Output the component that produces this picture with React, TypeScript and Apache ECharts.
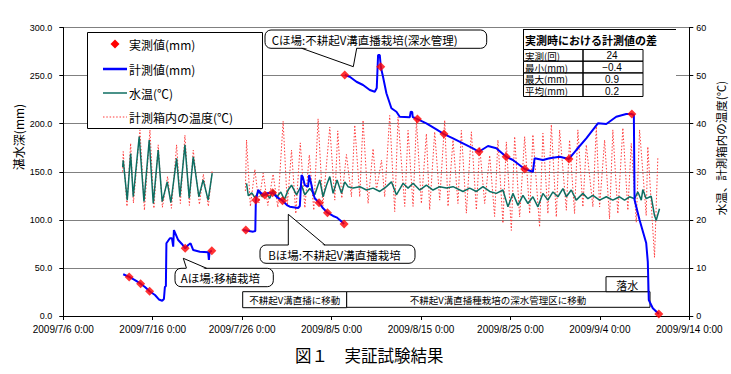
import React, { useEffect, useRef } from "react";
import * as echarts from "echarts";

// x values are days since 2009/7/6 0:00
const xTickLabels = [
  "2009/7/6 0:00", "2009/7/16 0:00", "2009/7/26 0:00", "2009/8/5 0:00",
  "2009/8/15 0:00", "2009/8/25 0:00", "2009/9/4 0:00", "2009/9/14 0:00",
];

// 実測値 (mm)
const measuredMm: [number, number][] = [
  [7.37, 40.6], [8.65, 33.6], [9.65, 25.7], [13.63, 70.4], [16.61, 67.9],
  [20.41, 89.4], [21.53, 120.6], [22.54, 125.8], [23.40, 128.2], [24.51, 119.9],
  [28.60, 117.8], [29.54, 107.4], [31.40, 95.7],
  [31.47, 250.6], [35.50, 259.2], [39.60, 204.8], [42.57, 189.2], [46.48, 170.8],
  [49.52, 165.6], [51.59, 152.9], [56.54, 163.3], [63.58, 210.0], [66.59, 2.1],
];

// 計測値 (mm) – A field
const sensorA: [number, number][] = [
  [6.70, 43.4], [7.37, 40.6], [8.01, 37.4], [8.65, 33.6], [9.13, 30.2], [9.65, 25.7],
  [10.25, 21.8], [10.69, 17.2], [11.06, 15.9], [11.25, 17.7], [11.36, 30.2], [11.47, 31.2],
  [11.53, 75.6], [11.92, 80.8], [12.15, 80.8], [12.29, 72.1], [12.37, 89.4], [12.85, 79.0],
  [13.26, 74.9], [13.63, 70.4], [13.97, 73.8], [14.23, 75.6], [14.53, 68.6], [15.27, 66.9],
  [16.20, 66.2], [16.28, 58.2], [16.35, 66.5], [16.61, 67.9],
];
// 計測値 (mm) – B field
const sensorB: [number, number][] = [
  [20.11, 89.4], [21.23, 87.7], [21.47, 88.4], [21.53, 120.6], [21.79, 131.0], [22.09, 127.9],
  [22.54, 125.8], [22.87, 127.9], [23.40, 128.2], [23.88, 123.7], [24.51, 119.9], [25.00, 115.4],
  [25.33, 113.7], [26.26, 112.3], [26.45, 114.4], [26.64, 146.6], [26.78, 144.5], [27.00, 136.2],
  [27.37, 134.4], [27.49, 146.6], [27.75, 136.2], [27.93, 127.6], [28.12, 122.4], [28.60, 117.8],
  [29.05, 112.0], [29.54, 107.4], [30.17, 104.0], [30.55, 102.6], [30.92, 99.8], [31.40, 95.7],
];
// 計測値 (mm) – C field
const sensorC: [number, number][] = [
  [31.47, 250.6], [32.03, 248.8], [32.78, 243.6], [33.52, 240.2], [34.27, 235.0], [34.83, 233.2],
  [35.05, 237.1], [35.20, 271.4], [35.39, 271.4], [35.50, 259.2], [35.75, 248.8], [36.13, 231.6],
  [36.69, 216.0], [37.25, 212.4], [37.62, 207.2], [38.74, 206.6], [38.85, 212.4], [39.02, 212.1],
  [39.07, 206.9], [39.60, 204.8], [40.60, 200.4], [41.72, 194.1], [42.57, 189.2], [43.58, 184.8],
  [44.69, 179.6], [45.81, 174.4], [46.48, 170.8], [46.78, 172.6], [47.49, 176.8], [48.42, 174.4],
  [49.52, 165.6], [50.28, 162.2], [51.59, 152.9], [52.51, 150.0], [52.70, 164.0], [53.63, 162.2],
  [54.38, 164.0], [55.50, 165.6], [56.54, 163.3], [57.36, 172.6], [58.48, 184.8], [59.78, 200.4],
  [60.72, 199.6], [61.83, 207.2], [62.95, 210.0], [63.58, 210.0], [63.80, 209.0], [63.88, 120.6],
  [64.44, 99.8], [65.18, 75.9], [65.36, 56.2], [65.47, 16.6], [65.92, 8.0], [66.59, 2.1],
];

// 水温 (℃)
const waterTempA: [number, number][] = [
  [6.64, 31.0], [6.70, 32.4], [7.15, 24.1], [7.53, 33.8], [7.82, 24.8], [8.49, 37.3],
  [9.02, 23.8], [9.61, 36.6], [10.06, 23.4], [10.61, 34.5], [11.06, 23.8], [11.62, 27.9],
  [12.03, 23.6], [12.67, 32.8], [13.04, 24.8], [13.60, 35.6], [14.08, 24.5], [14.53, 33.1],
  [15.16, 24.8], [15.64, 28.3], [16.20, 24.1], [16.65, 29.7],
];
const waterTempBC: [number, number][] = [
  [20.49, 27.6], [20.69, 25.0], [21.08, 25.6], [21.42, 24.6], [21.87, 25.9], [22.26, 24.8],
  [22.65, 25.6], [23.09, 24.5], [23.46, 26.2], [23.88, 24.8], [24.32, 25.8], [24.72, 24.2],
  [25.14, 26.2], [25.52, 27.2], [26.08, 25.2], [26.64, 27.2], [27.01, 25.2], [27.56, 26.5],
  [28.12, 25.2], [28.68, 28.3], [29.05, 24.8], [29.43, 27.2], [29.80, 29.0], [30.17, 25.5],
  [30.61, 28.3], [31.11, 25.5], [31.47, 27.9], [31.84, 26.9], [32.40, 26.6], [33.15, 26.9],
  [33.90, 26.2], [34.64, 26.6], [35.39, 25.9], [36.13, 26.9], [36.69, 27.9], [37.25, 25.2],
  [37.99, 27.6], [38.55, 26.6], [39.11, 27.6], [39.85, 26.2], [40.60, 27.2], [41.34, 26.2],
  [42.09, 26.9], [42.84, 26.6], [43.58, 26.9], [44.69, 25.9], [45.44, 26.6], [46.19, 25.9],
  [46.93, 26.9], [47.68, 25.9], [48.42, 25.5], [49.16, 26.2], [49.72, 22.7], [50.28, 25.5],
  [50.84, 23.0], [51.40, 25.1], [51.96, 23.4], [52.51, 24.8], [53.07, 22.7], [53.63, 25.5],
  [54.19, 24.1], [54.75, 25.8], [55.31, 24.8], [55.87, 26.5], [56.25, 24.8], [56.80, 26.2],
  [57.36, 24.1], [58.10, 25.5], [58.66, 24.4], [59.22, 25.1], [59.97, 24.1], [60.72, 24.8],
  [61.45, 24.1], [62.20, 24.8], [62.76, 24.1], [63.32, 24.8], [63.88, 24.4], [64.25, 25.8],
  [64.63, 24.1], [64.80, 26.3], [65.18, 24.4], [65.74, 24.9], [66.11, 20.9], [66.30, 19.9],
  [66.67, 22.3],
];

// 計測箱内の温度 (℃)
const boxTempA: [number, number][] = [
  [6.64, 30.0], [6.70, 34.2], [7.12, 22.8], [7.53, 35.9], [7.84, 23.5], [8.57, 38.7],
  [9.07, 22.0], [9.69, 38.7], [10.13, 22.4], [10.61, 35.6], [11.08, 22.6], [11.66, 29.0],
  [12.09, 22.4], [12.67, 35.6], [13.09, 23.4], [13.60, 37.6], [14.10, 23.0], [14.53, 34.5],
  [15.22, 23.2], [15.66, 29.5], [16.22, 22.8], [16.65, 30.4],
];
const boxTempBC: [number, number][] = [
  [20.36, 26.0], [20.49, 36.6], [20.92, 22.8], [21.42, 30.5], [21.87, 23.5], [22.35, 29.7],
  [22.87, 23.0], [23.46, 29.5], [23.99, 22.6], [24.58, 40.5], [25.05, 23.0], [25.52, 34.5],
  [26.00, 21.3], [26.50, 36.0], [27.01, 22.5], [27.51, 33.5], [28.01, 22.0], [28.49, 41.0],
  [29.02, 22.8], [29.80, 39.3], [30.36, 24.1], [30.69, 38.5], [31.14, 24.5], [31.66, 33.6],
  [32.22, 24.8], [32.59, 39.7], [33.15, 24.8], [33.52, 40.7], [34.08, 23.4], [34.64, 34.8],
  [35.02, 26.2], [35.58, 32.4], [35.94, 24.8], [36.50, 41.7], [37.06, 21.7], [37.43, 41.4],
  [38.18, 22.8], [38.55, 38.6], [39.11, 22.8], [39.49, 40.7], [40.04, 23.4], [40.60, 37.9],
  [40.97, 22.1], [41.53, 38.3], [42.09, 24.1], [42.65, 40.7], [43.02, 22.8], [43.58, 36.6],
  [44.13, 23.4], [44.51, 38.6], [45.07, 21.4], [45.63, 38.3], [46.19, 22.1], [46.56, 35.2],
  [47.12, 23.4], [47.68, 33.4], [48.23, 20.7], [48.60, 36.6], [49.16, 19.3], [49.54, 36.2],
  [50.10, 17.8], [50.47, 37.3], [51.03, 20.6], [51.59, 37.3], [52.15, 21.3], [52.51, 37.7],
  [53.26, 18.5], [53.63, 38.0], [54.19, 21.3], [54.57, 39.8], [55.13, 20.6], [55.50, 38.7],
  [56.25, 22.0], [56.61, 36.6], [57.17, 21.3], [57.54, 38.7], [58.10, 22.7], [58.48, 35.6],
  [59.22, 22.7], [59.60, 39.4], [59.97, 22.7], [60.53, 36.6], [61.08, 20.2], [61.45, 38.7],
  [62.01, 21.3], [62.57, 39.1], [63.13, 22.0], [63.51, 35.9], [64.07, 19.5], [64.44, 38.7],
  [65.18, 20.9], [65.36, 35.2], [66.11, 12.2], [66.48, 32.8],
];

// 実測時における計測値の差
const tableRows = ["実測(回)", "最小(mm)", "最大(mm)", "平均(mm)"];
const tableValues = ["24", "−0.4", "0.9", "0.2"];

const JP = '"Noto Sans CJK JP", "Noto Sans", sans-serif';
const NUM = '"Liberation Sans", Arial, sans-serif';

const BLUE = "#0000ff";
const TEAL = "#0e6e62";
const RED = "#ff0000";
const DOT = "#ff3a3a";
const DOT_DASH = [1.5, 1.8];

function txt(text: string, x: number, y: number, size: number, o: any = {}) {
  const align = o.align ?? "left";
  return {
    type: "text",
    x,
    y,
    z: o.z ?? 100,
    rotation: o.rotation ?? 0,
    style: {
      text,
      fontSize: size,
      fontFamily: o.font ?? JP,
      fontWeight: o.bold ? "bold" : "normal",
      fill: "#000",
      align,
      textAlign: align,
      verticalAlign: "middle",
      textVerticalAlign: "middle",
      lineHeight: size,
    },
  };
}

function line(x1: number, y1: number, x2: number, y2: number, stroke: string, lw: number, dash?: number[], z = 100) {
  return {
    type: "line",
    z,
    shape: { x1, y1, x2, y2 },
    style: { stroke, lineWidth: lw, lineDash: dash },
  };
}

function box(x: number, y: number, w: number, h: number, z = 100, r = 0, stroke = "#000") {
  return {
    type: "rect",
    z,
    shape: { x, y, width: w, height: h, r },
    style: { fill: "#fff", stroke, lineWidth: 1 },
  };
}

function callout(x: number, y: number, w: number, h: number, bx1: number, bx2: number, tx: number, ty: number, label: string, textX: number) {
  const up = ty < y;
  const edge = up ? y : y + h;
  const inner = up ? y + 1.5 : y + h - 1.5;
  return [
    box(x, y, w, h, 100, 6),
    {
      type: "polygon",
      z: 101,
      shape: { points: [[bx1, inner], [tx, ty], [bx2, inner]] },
      style: { fill: "#fff" },
    },
    {
      type: "polyline",
      z: 102,
      shape: { points: [[bx1, edge], [tx, ty], [bx2, edge]] },
      style: { stroke: "#000", lineWidth: 1, fill: null },
    },
    txt(label, textX, y + h / 2 + 0.5, 11.5, { z: 103 }),
  ];
}

function buildGraphic() {
  const els: any[] = [];
  // legend
  els.push(box(87.5, 32.5, 175, 96));
  els.push({
    type: "polygon",
    z: 101,
    shape: { points: [[115, 39.5], [119.5, 44], [115, 48.5], [110.5, 44]] },
    style: { fill: RED },
  });
  els.push(txt("実測値(mm)", 129, 44.5, 12));
  els.push(line(103, 69, 127, 69, BLUE, 2.5, undefined, 101));
  els.push(txt("計測値(mm)", 129, 69.5, 12));
  els.push(line(103, 93, 127, 93, TEAL, 1.5, undefined, 101));
  els.push(txt("水温(℃)", 129, 93.5, 12));
  els.push(line(103, 117, 127, 117, DOT, 1, DOT_DASH, 101));
  els.push(txt("計測箱内の温度(℃)", 129, 117.5, 12));

  // table
  els.push({ type: "rect", z: 100, shape: { x: 523, y: 29, width: 153, height: 68 }, style: { fill: "#fff" } });
  els.push(line(523, 29.5, 676, 29.5, "#000", 1));
  els.push(line(523.5, 29.5, 523.5, 49.5, "#000", 1));
  els.push(txt("実測時における計測値の差", 525, 40, 11, { bold: true }));
  const rowsY = [49.5, 61.2, 72.9, 84.6, 96.5];
  for (let i = 0; i < tableRows.length; i++) {
    const y0 = rowsY[i];
    const h = rowsY[i + 1] - y0;
    els.push({ type: "rect", z: 101, shape: { x: 523.5, y: y0, width: 59.5, height: h }, style: { fill: "none", stroke: "#000", lineWidth: 1 } });
    els.push({ type: "rect", z: 101, shape: { x: 583, y: y0, width: 60, height: h }, style: { fill: "none", stroke: "#000", lineWidth: 1 } });
    els.push(txt(tableRows[i], 525, y0 + h / 2 + 0.5, 9.5));
    els.push(txt(tableValues[i], 612, y0 + h / 2 + 0.5, 10, { align: "center", font: NUM }));
  }

  // callouts
  els.push(...callout(265, 30, 221.7, 18.3, 301.7, 356.7, 353.3, 66.7, "Cほ場:不耕起V溝直播栽培(深水管理)", 271.7));
  els.push(...callout(260, 245, 155, 18.3, 288.3, 325, 288.3, 214.3, "Bほ場:不耕起V溝直播栽培", 268.3));
  els.push(...callout(175, 268.3, 98.3, 18.4, 186.5, 206.7, 183.3, 258.3, "Aほ場:移植栽培", 180.7));

  // bottom boxes
  els.push(box(242.7, 291.7, 104, 16, 1));
  els.push(txt("不耕起V溝直播に移動", 294.7, 300, 9.5, { align: "center", z: 1 }));
  els.push(box(346.7, 291.7, 303.3, 15.6, 1));
  els.push(txt("不耕起V溝直播種栽培の深水管理区に移動", 498, 300, 9.5, { align: "center", z: 1 }));
  els.push(box(606, 276.7, 42.3, 15, 1));
  els.push(txt("落水", 627.2, 284.5, 11, { align: "center", z: 1 }));

  // axis titles
  els.push(txt("湛水深(mm)", 18, 137, 12, { align: "center", rotation: Math.PI / 2 }));
  els.push(txt("水温、計測箱内の温度(℃)", 721, 148, 11.5, { align: "center", rotation: Math.PI / 2 }));

  // caption
  els.push(txt("図１　実証試験結果", 295, 355, 16.5));
  return els;
}

export default function App() {
  const ref = useRef<HTMLDivElement>(null);
  useEffect(() => {
    document.body.style.margin = "0";
    if (!ref.current) return;
    const chart = echarts.init(ref.current, null, { renderer: "svg" });
    const axisLabelBase = { color: "#000", fontFamily: NUM };
    chart.setOption({
      animation: false,
      backgroundColor: "#fff",
      grid: { left: 63.3, right: 41.7, top: 27.5, bottom: 58, containLabel: false, outerBoundsMode: "none" },
      xAxis: {
        type: "value",
        min: 0,
        max: 70,
        interval: 10,
        axisLine: { show: true, lineStyle: { color: "#000", width: 1 } },
        axisTick: { show: true, length: 4, lineStyle: { color: "#000" } },
        splitLine: { show: false },
        axisLabel: {
          ...axisLabelBase,
          fontSize: 10,
          margin: 8,
          showMinLabel: true,
          showMaxLabel: true,
          hideOverlap: false,
          formatter: (v: number) => xTickLabels[Math.round(v / 10)] ?? "",
        },
      },
      yAxis: [
        {
          type: "value",
          min: 0,
          max: 300,
          interval: 50,
          axisLine: { show: true, lineStyle: { color: "#000", width: 1 } },
          axisTick: { show: true, length: 4, lineStyle: { color: "#000" } },
          splitLine: { show: true, lineStyle: { color: "#808080", width: 1 } },
          axisLabel: { ...axisLabelBase, fontSize: 9, margin: 11, formatter: (v: number) => v.toFixed(1) },
        },
        {
          type: "value",
          min: 0,
          max: 60,
          interval: 10,
          position: "right",
          axisLine: { show: true, lineStyle: { color: "#000", width: 1 } },
          axisTick: { show: true, length: 4, lineStyle: { color: "#000" } },
          splitLine: { show: false },
          axisLabel: { ...axisLabelBase, fontSize: 9, margin: 7 },
        },
      ],
      series: [
        { name: "計測箱内の温度(℃)", type: "line", yAxisIndex: 1, data: boxTempA, symbol: "none", silent: true, z: 2, lineStyle: { color: DOT, width: 1, type: DOT_DASH } },
        { name: "計測箱内の温度(℃)", type: "line", yAxisIndex: 1, data: boxTempBC, symbol: "none", silent: true, z: 2, lineStyle: { color: DOT, width: 1, type: DOT_DASH } },
        { name: "水温(℃)", type: "line", yAxisIndex: 1, data: waterTempA, symbol: "none", silent: true, z: 3, lineStyle: { color: TEAL, width: 1.5 } },
        { name: "水温(℃)", type: "line", yAxisIndex: 1, data: waterTempBC, symbol: "none", silent: true, z: 3, lineStyle: { color: TEAL, width: 1.5 } },
        { name: "計測値(mm)", type: "line", yAxisIndex: 0, data: sensorA, symbol: "none", silent: true, z: 4, lineStyle: { color: BLUE, width: 2 } },
        { name: "計測値(mm)", type: "line", yAxisIndex: 0, data: sensorB, symbol: "none", silent: true, z: 4, lineStyle: { color: BLUE, width: 2 } },
        { name: "計測値(mm)", type: "line", yAxisIndex: 0, data: sensorC, symbol: "none", silent: true, z: 4, lineStyle: { color: BLUE, width: 2 } },
        { name: "実測値(mm)", type: "scatter", yAxisIndex: 0, data: measuredMm, symbol: "diamond", symbolSize: 9, silent: true, z: 5, itemStyle: { color: RED } },
      ],
      graphic: { elements: buildGraphic() },
    });
    return () => chart.dispose();
  }, []);
  return <div ref={ref} style={{ width: 731, height: 374 }} />;
}
